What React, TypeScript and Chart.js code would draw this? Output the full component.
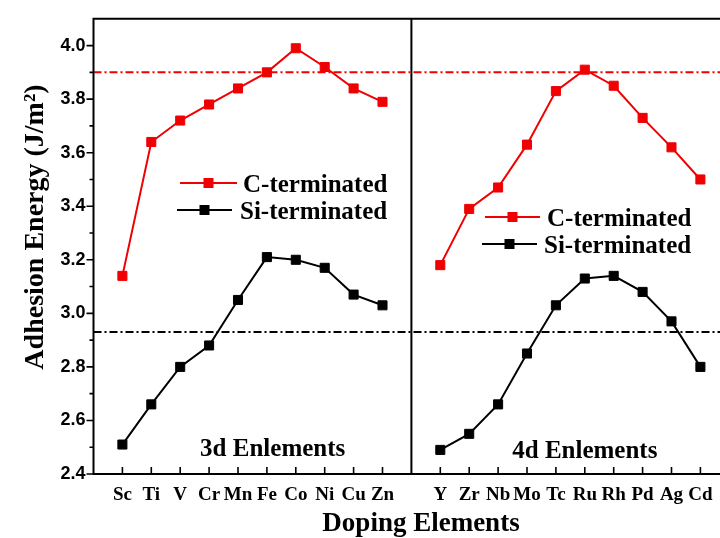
import { useEffect, useRef } from 'react';
import { Chart, registerables } from 'chart.js';

Chart.register(...registerables);

// ---- data ----
const elements3d = ['Sc', 'Ti', 'V', 'Cr', 'Mn', 'Fe', 'Co', 'Ni', 'Cu', 'Zn'];
const elements4d = ['Y', 'Zr', 'Nb', 'Mo', 'Tc', 'Ru', 'Rh', 'Pd', 'Ag', 'Cd'];
const cTerminated3d = [3.14, 3.64, 3.72, 3.78, 3.84, 3.9, 3.99, 3.92, 3.84, 3.79];
const siTerminated3d = [2.51, 2.66, 2.8, 2.88, 3.05, 3.21, 3.2, 3.17, 3.07, 3.03];
const cTerminated4d = [3.18, 3.39, 3.47, 3.63, 3.83, 3.91, 3.85, 3.73, 3.62, 3.5];
const siTerminated4d = [2.49, 2.55, 2.66, 2.85, 3.03, 3.13, 3.14, 3.08, 2.97, 2.8];
const cReference = 3.9;
const siReference = 2.93;
const yTicks = [2.4, 2.6, 2.8, 3.0, 3.2, 3.4, 3.6, 3.8, 4.0];
const yMinorTicks = [2.5, 2.7, 2.9, 3.1, 3.3, 3.5, 3.7, 3.9];
const panelLabels = ['3d Enlements', '4d Enlements'];
const seriesNames = ['C-terminated', 'Si-terminated'];
const xTitle = 'Doping Elements';
const yTitle = 'Adhesion Energy (J/m\u00B2)';

const X_MIN = 0;
const X_MAX = 22;
const OFFSET_3D = 1;
const OFFSET_4D = 12;
const DIVIDER = 11;
const Y_MIN = 2.4;
const Y_MAX = 4.1;

const SERIF = '"Liberation Serif", "Times New Roman", serif';
const SANS = '"Liberation Sans", Arial, sans-serif';
const RED = 'rgb(240,0,0)';
const BLACK = '#000000';

const toPoints = (values: number[], offset: number) =>
  values.map((v, i) => ({ x: i + offset, y: v }));

const tickLabel = (v: number) => {
  const i = Math.round(v);
  if (i >= OFFSET_3D && i < OFFSET_3D + elements3d.length) return elements3d[i - OFFSET_3D];
  if (i >= OFFSET_4D && i < OFFSET_4D + elements4d.length) return elements4d[i - OFFSET_4D];
  return '';
};

const seriesStyle = (color: string) => ({
  borderColor: color,
  backgroundColor: color,
  borderWidth: 2,
  pointStyle: 'rect',
  pointRadius: 6.4,
  pointHoverRadius: 6.4,
  pointBorderWidth: 1,
  pointBackgroundColor: color,
  pointBorderColor: color,
  fill: false,
  tension: 0,
});

const refStyle = (color: string) => ({
  borderColor: color,
  backgroundColor: color,
  borderWidth: 2,
  borderDash: [8, 3, 2, 3],
  pointRadius: 0,
  pointHoverRadius: 0,
  fill: false,
  tension: 0,
});

const decorPlugin = {
  id: 'decor',
  afterDraw(chart: any) {
    const { ctx, chartArea: a, scales } = chart;
    const xs = scales.x;
    const ys = scales.y;
    ctx.save();
    // frame
    ctx.strokeStyle = BLACK;
    ctx.lineWidth = 2;
    ctx.setLineDash([]);
    ctx.beginPath();
    ctx.moveTo(a.left - 1, a.top);
    ctx.lineTo(a.right, a.top);
    ctx.moveTo(a.left, a.top);
    ctx.lineTo(a.left, a.bottom);
    ctx.moveTo(a.left - 1, a.bottom);
    ctx.lineTo(a.right, a.bottom);
    ctx.moveTo(a.right, a.top);
    ctx.lineTo(a.right, a.bottom);
    ctx.stroke();
    // y ticks (outward)
    ctx.lineWidth = 1.6;
    ctx.beginPath();
    yTicks.forEach((v) => {
      const y = ys.getPixelForValue(v);
      ctx.moveTo(a.left - 7, y);
      ctx.lineTo(a.left, y);
    });
    yMinorTicks.forEach((v) => {
      const y = ys.getPixelForValue(v);
      ctx.moveTo(a.left - 4, y);
      ctx.lineTo(a.left, y);
    });
    // x ticks (inward)
    [elements3d.map((_, i) => i + OFFSET_3D), elements4d.map((_, i) => i + OFFSET_4D)]
      .flat()
      .forEach((v) => {
        const x = xs.getPixelForValue(v);
        ctx.moveTo(x, a.bottom);
        ctx.lineTo(x, a.bottom - 7);
      });
    ctx.stroke();

    // panel labels
    ctx.fillStyle = BLACK;
    ctx.font = `bold 25px ${SERIF}`;
    ctx.textAlign = 'center';
    ctx.textBaseline = 'alphabetic';
    ctx.fillText(panelLabels[0], xs.getPixelForValue(6.2), a.bottom - 18);
    ctx.fillText(panelLabels[1], xs.getPixelForValue(17.0), a.bottom - 16);

    // legends
    const legendItem = (x1: number, x2: number, y: number, color: string, label: string, tx: number) => {
      ctx.strokeStyle = color;
      ctx.lineWidth = 2;
      ctx.beginPath();
      ctx.moveTo(x1, y);
      ctx.lineTo(x2, y);
      ctx.stroke();
      ctx.fillStyle = color;
      const m = (x1 + x2) / 2;
      ctx.fillRect(m - 5, y - 5, 10, 10);
      ctx.fillStyle = BLACK;
      ctx.font = `bold 25px ${SERIF}`;
      ctx.textAlign = 'left';
      ctx.textBaseline = 'alphabetic';
      ctx.fillText(label, tx, y + 8.5);
    };
    legendItem(180, 237, 183, RED, seriesNames[0], 243);
    legendItem(177, 232, 210, BLACK, seriesNames[1], 240);
    legendItem(485, 540, 217, RED, seriesNames[0], 547);
    legendItem(482, 537, 244, BLACK, seriesNames[1], 544);

    // axis titles
    ctx.fillStyle = BLACK;
    ctx.font = `bold 27px ${SERIF}`;
    ctx.textAlign = 'center';
    ctx.textBaseline = 'alphabetic';
    ctx.fillText(xTitle, 421, 531);
    ctx.save();
    ctx.font = `bold 28px ${SERIF}`;
    ctx.translate(43, 227);
    ctx.rotate(-Math.PI / 2);
    ctx.fillText(yTitle, 0, 0);
    ctx.restore();
    ctx.restore();
  },
};

export default function App() {
  const ref = useRef<HTMLCanvasElement | null>(null);
  useEffect(() => {
    document.body.style.margin = '0';
    const canvas = ref.current;
    if (!canvas) return;
    const chart = new Chart(canvas, {
      type: 'line',
      data: {
        datasets: [
          { label: 'C 3d', data: toPoints(cTerminated3d, OFFSET_3D), ...seriesStyle(RED) },
          { label: 'Si 3d', data: toPoints(siTerminated3d, OFFSET_3D), ...seriesStyle(BLACK) },
          { label: 'C 4d', data: toPoints(cTerminated4d, OFFSET_4D), ...seriesStyle(RED) },
          { label: 'Si 4d', data: toPoints(siTerminated4d, OFFSET_4D), ...seriesStyle(BLACK) },
          { label: 'C ref', data: [{ x: X_MIN, y: cReference }, { x: X_MAX, y: cReference }], ...refStyle(RED) },
          { label: 'Si ref', data: [{ x: X_MIN, y: siReference }, { x: X_MAX, y: siReference }], ...refStyle(BLACK) },
          {
            label: 'divider',
            data: [{ x: DIVIDER, y: Y_MIN }, { x: DIVIDER, y: Y_MAX }],
            borderColor: BLACK,
            borderWidth: 2,
            pointRadius: 0,
            pointHoverRadius: 0,
            fill: false,
          },
        ] as any,
      },
      options: {
        animation: false,
        responsive: false,
        devicePixelRatio: 1,
        layout: { padding: { top: 6, right: 12.7, left: 0, bottom: 0 } },
        plugins: { legend: { display: false }, tooltip: { enabled: false } },
        events: [],
        scales: {
          x: {
            type: 'linear',
            min: X_MIN,
            max: X_MAX,
            grid: { display: false, drawTicks: false },
            border: { display: false },
            afterBuildTicks: (axis: any) => {
              const t = [];
              for (let v = X_MIN; v <= X_MAX; v++) t.push({ value: v });
              axis.ticks = t;
            },
            afterFit: (axis: any) => {
              axis.height = 64;
            },
            ticks: {
              autoSkip: false,
              maxRotation: 0,
              minRotation: 0,
              padding: 10,
              color: BLACK,
              font: { family: SERIF, size: 19, weight: 'bold' },
              callback: (v: any) => tickLabel(Number(v)),
            },
          },
          y: {
            type: 'linear',
            min: Y_MIN,
            max: Y_MAX,
            grid: { display: false, drawTicks: false },
            border: { display: false },
            afterBuildTicks: (axis: any) => {
              axis.ticks = yTicks.map((v) => ({ value: v }));
            },
            afterFit: (axis: any) => {
              axis.width = 93.5;
            },
            ticks: {
              padding: 8,
              color: BLACK,
              font: { family: SANS, size: 18, weight: 'bold' },
              callback: (v: any) => Number(v).toFixed(1),
            },
          },
        },
      } as any,
      plugins: [decorPlugin],
    });
    return () => chart.destroy();
  }, []);

  return (
    <div style={{ width: 720, height: 538, overflow: 'hidden', position: 'relative', background: '#fff' }}>
      <canvas ref={ref} width={742} height={538} style={{ display: 'block' }} />
    </div>
  );
}
